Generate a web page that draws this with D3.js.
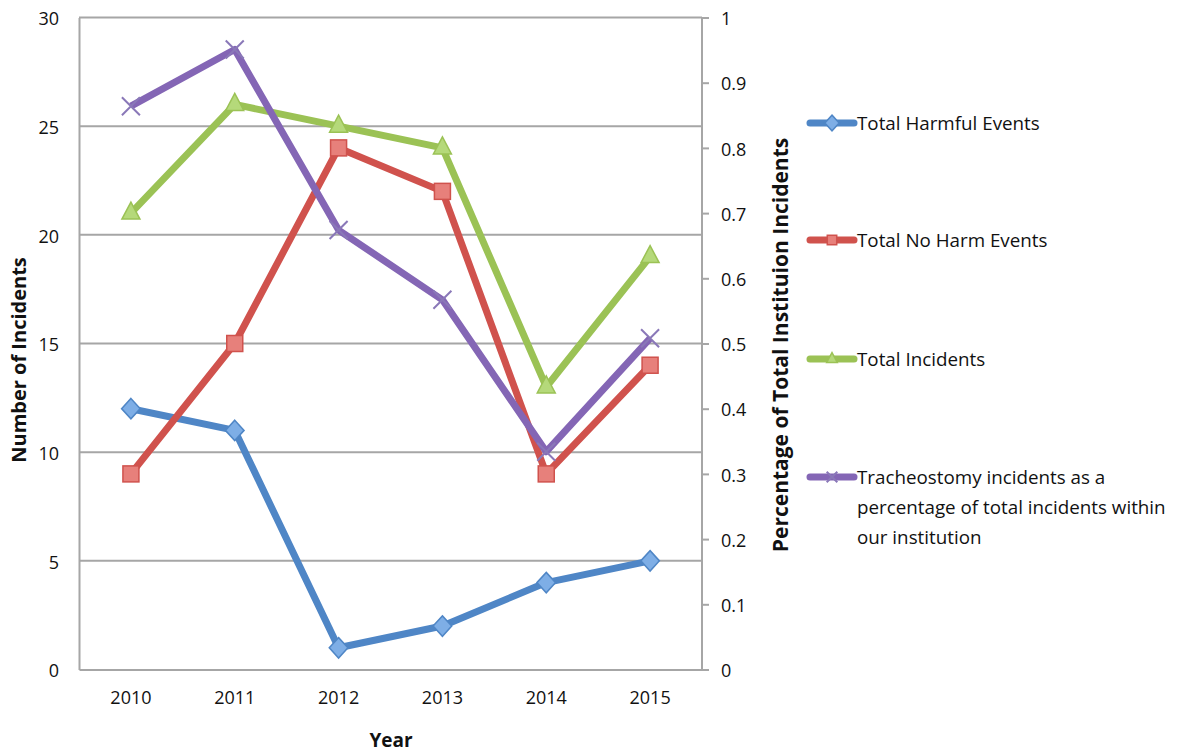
<!DOCTYPE html>
<html>
<head>
<meta charset="utf-8">
<script src="https://cdn.jsdelivr.net/npm/d3@7"></script>
<style>
  body { margin: 0; background: #fff; }
  text { font-family: "Open Sans", "Liberation Sans", sans-serif; fill: #111; }
</style>
</head>
<body>
<div id="chart"></div>
<script>
// chart data
var years = ["2010", "2011", "2012", "2013", "2014", "2015"];
var harmful = [12, 11, 1, 2, 4, 5];
var noHarm = [9, 15, 24, 22, 9, 14];
var totalIncidents = [21, 26, 25, 24, 13, 19];
var tracheoPct = [0.864, 0.951, 0.674, 0.567, 0.334, 0.508];
var leftTicks = [0, 5, 10, 15, 20, 25, 30];
var rightTicks = [0, 0.1, 0.2, 0.3, 0.4, 0.5, 0.6, 0.7, 0.8, 0.9, 1];

var width = 1182, height = 753;
var margin = {top: 17.5, left: 79, right: 480, bottom: 83.5};
var pw = width - margin.left - margin.right,
    ph = height - margin.top - margin.bottom;

var svg = d3.select("#chart").append("svg")
    .attr("width", width)
    .attr("height", height);

var g = svg.append("g")
    .attr("transform", "translate(" + margin.left + "," + margin.top + ")");

var x = d3.scaleBand().domain(years).range([0, pw]);
var yL = d3.scaleLinear().domain([0, 30]).range([ph, 0]);
var yR = d3.scaleLinear().domain([0, 1]).range([ph, 0]);

function cx(i) { return x(years[i]) + x.bandwidth() / 2; }

// gridlines
g.append("g").selectAll("line")
    .data(leftTicks.slice(1))
  .enter().append("line")
    .attr("x1", 0).attr("x2", pw)
    .attr("y1", function(d) { return yL(d); })
    .attr("y2", function(d) { return yL(d); })
    .attr("stroke", "#a6a6a6").attr("stroke-width", 2);

// left axis
var gl = g.append("g").call(d3.axisLeft(yL).tickValues(leftTicks).tickSize(0).tickPadding(20));
gl.select(".domain").attr("stroke", "#a6a6a6").attr("stroke-width", 2);
gl.selectAll("text").style("font-size", "18px").attr("dy", "0.4em").style("font-family", "'Open Sans', sans-serif");

// right axis
var gr = g.append("g").attr("transform", "translate(" + pw + ",0)")
    .call(d3.axisRight(yR).tickValues(rightTicks).tickSize(7).tickPadding(12).tickFormat(d3.format("~g")));
gr.select(".domain").attr("stroke", "#a6a6a6").attr("stroke-width", 2).attr("d", "M0,0V" + ph);
gr.selectAll("line").attr("stroke", "#a6a6a6").attr("stroke-width", 2);
gr.selectAll("text").style("font-size", "18px").attr("dy", "0.4em").style("font-family", "'Open Sans', sans-serif");

// bottom axis
var gb = g.append("g").attr("transform", "translate(0," + ph + ")")
    .call(d3.axisBottom(x).tickSize(0).tickPadding(22));
gb.select(".domain").attr("stroke", "#a6a6a6").attr("stroke-width", 2);
gb.selectAll("text").style("font-size", "18px").style("font-family", "'Open Sans', sans-serif");

// axis titles
svg.append("text")
    .attr("transform", "translate(26,360) rotate(-90)")
    .attr("text-anchor", "middle")
    .style("font-size", "20px").style("font-weight", "bold")
    .text("Number of Incidents");

svg.append("text")
    .attr("transform", "translate(788,345) rotate(-90)")
    .attr("text-anchor", "middle")
    .style("font-size", "21px").style("font-weight", "bold")
    .text("Percentage of Total Instituion Incidents");

svg.append("text")
    .attr("x", 391).attr("y", 747)
    .attr("text-anchor", "middle")
    .style("font-size", "19px").style("font-weight", "bold")
    .text("Year");

// series
var series = [
  {name: ["Total Harmful Events"], vals: harmful, y: yL, color: "#4f86c6", fill: "#7eaee6", marker: "diamond"},
  {name: ["Total No Harm Events"], vals: noHarm, y: yL, color: "#d0524d", fill: "#e7807b", marker: "square"},
  {name: ["Total Incidents"], vals: totalIncidents, y: yL, color: "#9bc255", fill: "#b5d97a", marker: "triangle"},
  {name: ["Tracheostomy incidents as a", "percentage of total incidents within", "our institution"], vals: tracheoPct, y: yR, color: "#8466b5", fill: "#8466b5", marker: "x"}
];

function drawMarker(sel, s, px, py, sz) {
  var k = sz / 220;
  if (s.marker == "diamond") {
    sel.append("path")
      .attr("d", d3.symbol().type(d3.symbolDiamond2).size(sz)())
      .attr("transform", "translate(" + px + "," + py + ") scale(1,1.1)")
      .attr("fill", s.fill).attr("stroke", s.color).attr("stroke-width", 1.5);
  } else if (s.marker == "square") {
    sel.append("rect")
      .attr("x", px - 8 * k).attr("y", py - 8 * k).attr("width", 16 * k).attr("height", 16 * k)
      .attr("fill", s.fill).attr("stroke", s.color).attr("stroke-width", 1.5);
  } else if (s.marker == "triangle") {
    sel.append("path")
      .attr("d", "M" + px + "," + (py - 11 * k) + "L" + (px + 9 * k) + "," + (py + 6 * k) + "L" + (px - 9 * k) + "," + (py + 6 * k) + "Z")
      .attr("fill", s.fill).attr("stroke", s.color).attr("stroke-width", 1.5);
  } else {
    var r = 9 * k;
    sel.append("path")
      .attr("d", "M" + (px - r) + "," + (py - r) + "L" + (px + r) + "," + (py + r) + "M" + (px + r) + "," + (py - r) + "L" + (px - r) + "," + (py + r))
      .attr("stroke", "#8a78b8").attr("stroke-width", 2);
  }
}

series.forEach(function(s) {
  var line = d3.line()
    .x(function(d, i) { return cx(i); })
    .y(function(d) { return s.y(d); });
  g.append("path")
    .datum(s.vals)
    .attr("d", line)
    .attr("fill", "none")
    .attr("stroke", s.color)
    .attr("stroke-width", 7)
    .attr("stroke-linejoin", "round");
});

series.forEach(function(s) {
  var mg = g.append("g");
  s.vals.forEach(function(v, i) {
    drawMarker(mg, s, cx(i), s.y(v), 220);
  });
});

// legend
var legendY = [123, 240, 359, 477];
series.forEach(function(s, k) {
  var lg = svg.append("g").attr("transform", "translate(0," + legendY[k] + ")");
  lg.append("line")
    .attr("x1", 810).attr("x2", 854).attr("y1", 0).attr("y2", 0)
    .attr("stroke", s.color).attr("stroke-width", 7).attr("stroke-linecap", "round");
  drawMarker(lg, s, 832, 0, 130);
  s.name.forEach(function(t, j) {
    lg.append("text")
      .attr("x", 857).attr("y", j * 30 + 7)
      .style("font-size", "18.8px")
      .text(t);
  });
});
</script>
</body>
</html>
